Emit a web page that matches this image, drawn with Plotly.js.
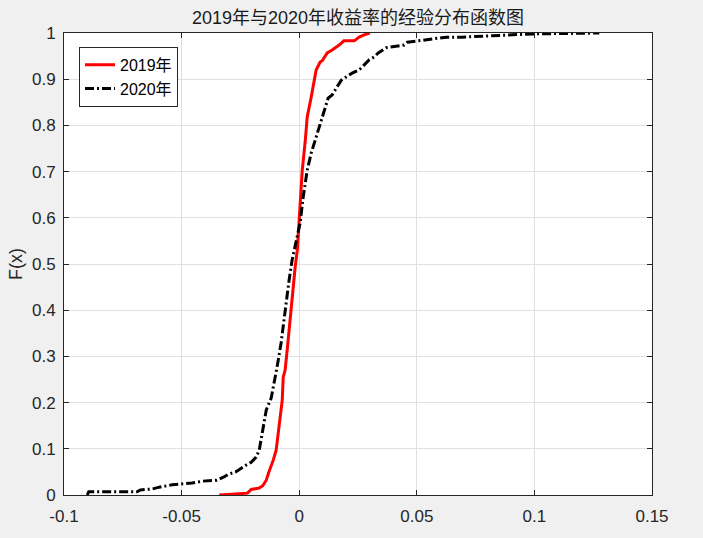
<!DOCTYPE html>
<html>
<head>
<meta charset="utf-8">
<script src="https://cdn.plot.ly/plotly-3.0.1.min.js"></script>
<style>html,body{margin:0;padding:0;background:#f0f0f0;}#chart{width:703px;height:538px;}</style>
</head>
<body>
<div id="chart"></div>
<script>
const titleText = "2019年与2020年收益率的经验分布函数图";
const seriesNames = ["2019年", "2020年"];

const x2019 = [-0.034, -0.022, -0.0204, -0.017, -0.0155, -0.014, -0.013, -0.012, -0.011, -0.0098, -0.0093, -0.0085, -0.0077, -0.0072, -0.0068, -0.006, -0.0051, -0.0038, -0.003, -0.0017, -0.0008, 0.0004, 0.0013, 0.0026, 0.0034, 0.0051, 0.0064, 0.0072, 0.0089, 0.0098, 0.0119, 0.014, 0.017, 0.019, 0.0234, 0.0255, 0.0276, 0.030];
const F2019 = [0, 0.004, 0.012, 0.015, 0.02, 0.032, 0.048, 0.06, 0.076, 0.097, 0.119, 0.147, 0.177, 0.206, 0.255, 0.27, 0.314, 0.385, 0.437, 0.494, 0.53, 0.632, 0.703, 0.768, 0.818, 0.861, 0.898, 0.92, 0.937, 0.94, 0.957, 0.963, 0.974, 0.983, 0.983, 0.991, 0.996, 1.0];

const x2020 = [-0.0901, -0.0895, -0.069, -0.0675, -0.0625, -0.0595, -0.054, -0.050, -0.0455, -0.041, -0.035, -0.032, -0.030, -0.027, -0.0247, -0.0225, -0.0204, -0.0183, -0.017, -0.0162, -0.0157, -0.0149, -0.014, -0.0119, -0.0106, -0.0094, -0.0077, -0.0064, -0.0055, -0.0043, -0.003, -0.0021, -0.0008, 0.0004, 0.0017, 0.0034, 0.0051, 0.0072, 0.0085, 0.0098, 0.0115, 0.0123, 0.014, 0.0162, 0.0179, 0.02, 0.0225, 0.0255, 0.0276, 0.0298, 0.0319, 0.0336, 0.037, 0.040, 0.0446, 0.046, 0.051, 0.058, 0.0625, 0.069, 0.0795, 0.0906, 0.099, 0.1276];
const F2020 = [0, 0.007, 0.007, 0.011, 0.013, 0.017, 0.022, 0.024, 0.026, 0.030, 0.032, 0.039, 0.045, 0.050, 0.058, 0.065, 0.071, 0.082, 0.097, 0.119, 0.141, 0.162, 0.184, 0.21, 0.242, 0.277, 0.329, 0.385, 0.422, 0.465, 0.509, 0.53, 0.558, 0.589, 0.645, 0.703, 0.74, 0.775, 0.797, 0.818, 0.848, 0.859, 0.866, 0.883, 0.898, 0.905, 0.913, 0.92, 0.931, 0.942, 0.948, 0.957, 0.968, 0.970, 0.974, 0.98, 0.983, 0.987, 0.991, 0.991, 0.994, 0.996, 0.998, 1.0];

const xTickVals = [-0.1, -0.05, 0, 0.05, 0.1, 0.15];
const xTickText = ["-0.1", "-0.05", "0", "0.05", "0.1", "0.15"];
const yTickVals = [0, 0.1, 0.2, 0.3, 0.4, 0.5, 0.6, 0.7, 0.8, 0.9, 1];
const yTickText = ["0", "0.1", "0.2", "0.3", "0.4", "0.5", "0.6", "0.7", "0.8", "0.9", "1"];

const fontFam = "'Liberation Sans', Arial, 'Noto Sans CJK SC', sans-serif";

const traces = [
  {x: x2019, y: F2019, name: seriesNames[0], type: "scatter", mode: "lines",
   line: {color: "#ff0000", width: 3}},
  {x: x2020, y: F2020, name: seriesNames[1], type: "scatter", mode: "lines",
   line: {color: "#000000", width: 3, dash: "9px,3px,2px,3px"}}
];

const axisCommon = {
  showgrid: true, gridcolor: "#e0e0e0", gridwidth: 1,
  zeroline: false, showline: true, linecolor: "#262626", linewidth: 1,
  mirror: "allticks", ticks: "inside", ticklen: 5, tickcolor: "#262626",
  tickfont: {family: fontFam, size: 17, color: "#262626"}
};

const layout = {
  width: 703, height: 538,
  paper_bgcolor: "#f0f0f0", plot_bgcolor: "#ffffff",
  margin: {l: 64, r: 51, t: 33, b: 43},
  title: {text: titleText, x: 0.5, xref: "paper", y: 0.968, yanchor: "middle",
          font: {family: "'Liberation Sans', 'Noto Sans CJK SC', sans-serif", size: 18, color: "#1a1a1a"}},
  xaxis: Object.assign({}, axisCommon, {range: [-0.1, 0.15], tickvals: xTickVals, ticktext: xTickText,
          ticklabelstandoff: 6}),
  yaxis: Object.assign({}, axisCommon, {range: [0, 1], tickvals: yTickVals, ticktext: yTickText,
          ticklabelstandoff: 4,
          title: {text: "F(x)", standoff: 4, font: {family: fontFam, size: 18, color: "#262626"}}}),
  showlegend: true,
  legend: {x: 0.0255, y: 0.97, xanchor: "left", yanchor: "top",
           bgcolor: "#ffffff", bordercolor: "#262626", borderwidth: 1,
           font: {family: "'Liberation Sans', 'Noto Sans CJK SC', sans-serif", size: 16, color: "#000000"},
           tracegroupgap: 0}
};

Plotly.newPlot("chart", traces, layout, {displayModeBar: false, staticPlot: true});
</script>
</body>
</html>
